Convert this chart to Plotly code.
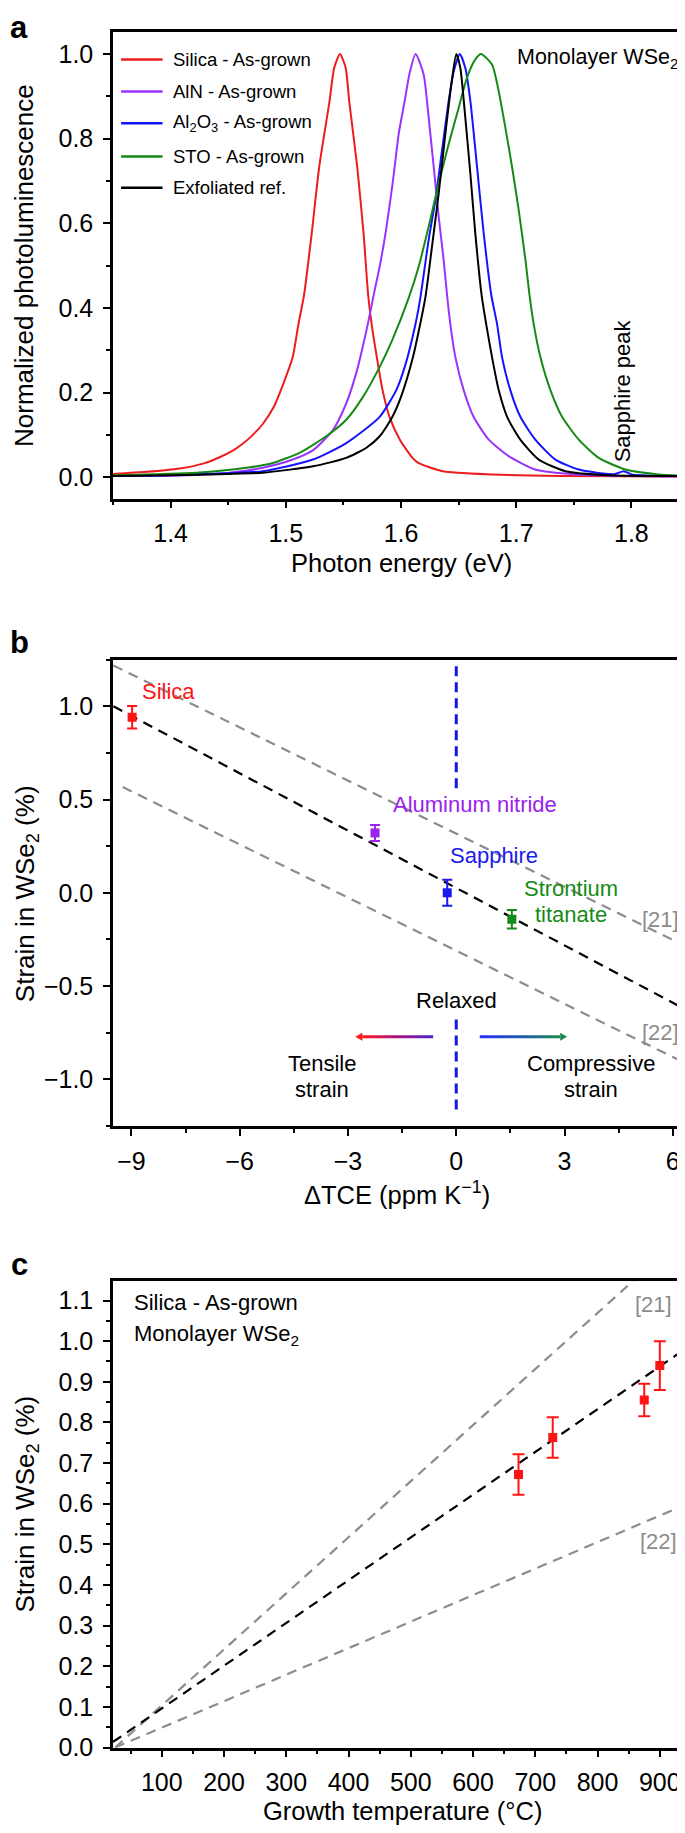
import plotly.graph_objects as go

FONT = "Liberation Sans, Arial, Helvetica, sans-serif"
W, H = 685, 1833

# ---------------- Panel a: PL spectra ----------------
red_e = [1.350, 1.379, 1.408, 1.429, 1.443, 1.454, 1.462, 1.4705, 1.480, 1.4895, 1.498, 1.506,
         1.511, 1.5158, 1.5225, 1.529, 1.538, 1.542, 1.547, 1.552, 1.555, 1.562, 1.5675, 1.5715,
         1.5745, 1.579, 1.584, 1.590, 1.599, 1.610, 1.615, 1.636, 1.679, 1.737, 1.850]
red_v = [0.008, 0.013, 0.021, 0.033, 0.048, 0.063, 0.078, 0.098, 0.126, 0.166, 0.222, 0.284,
         0.362, 0.43, 0.576, 0.733, 0.889, 0.967, 1.0, 0.967, 0.889, 0.733, 0.576, 0.43,
         0.362, 0.284, 0.206, 0.143, 0.089, 0.046, 0.034, 0.0146, 0.007, 0.003, 0.002]

aln_e = [1.350, 1.408, 1.451, 1.480, 1.506, 1.524, 1.541, 1.5525, 1.561, 1.570, 1.577, 1.5815,
         1.587, 1.593, 1.598, 1.6032, 1.6075, 1.6127, 1.6197, 1.624, 1.6284, 1.6327, 1.637, 1.640,
         1.6428, 1.6472, 1.6544, 1.663, 1.6762, 1.6935, 1.7166, 1.7514, 1.850]
aln_v = [0.003, 0.0045, 0.011, 0.0225, 0.042, 0.065, 0.112, 0.175, 0.245, 0.347, 0.44, 0.498,
         0.584, 0.70, 0.811, 0.889, 0.955, 1.0, 0.951, 0.85, 0.733, 0.616, 0.514, 0.43,
         0.362, 0.284, 0.206, 0.143, 0.089, 0.05, 0.0185, 0.007, 0.002]

al2o3_e = [1.350, 1.420, 1.4802, 1.5236, 1.5525, 1.5815, 1.5959, 1.6037, 1.6124, 1.6168, 1.624,
           1.6298, 1.6356, 1.6414, 1.6458, 1.651, 1.6558, 1.6602, 1.666, 1.6718, 1.6784, 1.6834,
           1.6877, 1.6949, 1.7036, 1.7166, 1.734, 1.7543, 1.7774, 1.786, 1.7934, 1.800, 1.8093, 1.850]
al2o3_v = [0.003, 0.007, 0.0146, 0.042, 0.081, 0.143, 0.206, 0.265, 0.36, 0.424, 0.561,
           0.654, 0.772, 0.889, 0.959, 1.0, 0.967, 0.889, 0.733, 0.576, 0.43, 0.362,
           0.284, 0.206, 0.143, 0.089, 0.042, 0.0185, 0.0083, 0.008, 0.0146, 0.007, 0.005, 0.003]

sto_e = [1.350, 1.4222, 1.4657, 1.4888, 1.512, 1.5351, 1.5525, 1.567, 1.5815, 1.5922, 1.6067,
         1.6154, 1.624, 1.6327, 1.6414, 1.6501, 1.6573, 1.6645, 1.6695, 1.679, 1.6848, 1.6906,
         1.6964, 1.7022, 1.708, 1.7116, 1.7152, 1.721, 1.7297, 1.7398, 1.7543, 1.7717, 1.7948,
         1.8238, 1.850]
sto_v = [0.005, 0.011, 0.0225, 0.034, 0.058, 0.097, 0.136, 0.19, 0.261, 0.323, 0.424,
         0.498, 0.592, 0.694, 0.787, 0.873, 0.944, 0.987, 1.0, 0.975, 0.912, 0.826,
         0.733, 0.631, 0.514, 0.43, 0.362, 0.284, 0.206, 0.143, 0.089, 0.046, 0.0185,
         0.007, 0.003]

exf_e = [1.350, 1.400, 1.450, 1.480, 1.5236, 1.5525, 1.570, 1.5815, 1.592, 1.600, 1.6104, 1.6211,
         1.6269, 1.6327, 1.6385, 1.6437, 1.648, 1.6515, 1.6558, 1.6602, 1.6645, 1.670, 1.6747,
         1.679, 1.6848, 1.6921, 1.7036, 1.7196, 1.7427, 1.7804, 1.850]
exf_v = [0.003, 0.005, 0.008, 0.011, 0.026, 0.046, 0.07, 0.097, 0.14, 0.19, 0.284, 0.424,
         0.545, 0.67, 0.811, 0.928, 1.0, 0.967, 0.85, 0.717, 0.576, 0.43, 0.35,
         0.284, 0.206, 0.143, 0.089, 0.042, 0.0146, 0.005, 0.003]

spectra_names = ["Silica - As-grown", "AlN - As-grown", "Al<sub>2</sub>O<sub>3</sub> - As-grown",
                 "STO - As-grown", "Exfoliated ref."]
spectra_colors = ["#ee1c1c", "#9933ff", "#1414ff", "#168a16", "#000000"]
spectra = [(red_e, red_v), (aln_e, aln_v), (al2o3_e, al2o3_v), (sto_e, sto_v), (exf_e, exf_v)]

# ---------------- Panel b: strain vs ΔTCE ----------------
b_names = ["Silica", "Aluminum nitride", "Sapphire", "Strontium titanate"]
b_tce = [-8.98, -2.25, -0.25, 1.54]
b_strain = [0.941, 0.321, 0.0, -0.142]
b_err = [0.06, 0.043, 0.07, 0.05]
b_colors = ["#ff1414", "#9922ee", "#1a1aee", "#168a16"]

b_fit_x = [-9.5, 6.5]
b_fit_y = [1.0, -0.641]
b_ref21_x = [-9.5, 6.5]
b_ref21_y = [1.219, -0.30]
b_ref22_x = [-9.24, 6.5]
b_ref22_y = [0.567, -0.928]
b_relaxed_top = [1.215, 0.545]
b_relaxed_bot = [-0.68, -1.19]

# ---------------- Panel c: strain vs growth temperature ----------------
c_temp = [673, 728, 875, 900]
c_strain = [0.672, 0.763, 0.855, 0.940]
c_err = [0.05, 0.05, 0.04, 0.06]
c_fit_x = [21.6, 949.3]
c_fit_y = [0.0137, 0.9897]
c_ref21_x = [25, 870]
c_ref21_y = [0.0, 1.166]
c_ref22_x = [25, 945]
c_ref22_y = [0.0, 0.60]

fig = go.Figure()

# panel a traces
for (e, v), name, col in zip(spectra, spectra_names, spectra_colors):
    fig.add_trace(go.Scatter(x=e, y=v, mode="lines", name=name, showlegend=False,
                             line=dict(color=col, width=2, shape="spline", smoothing=0.6),
                             xaxis="x", yaxis="y"))

# panel b traces
GRAY = "#8c8c8c"
fig.add_trace(go.Scatter(x=b_ref21_x, y=b_ref21_y, mode="lines", showlegend=False,
                         line=dict(color=GRAY, width=2.2, dash="10px,7px"), xaxis="x2", yaxis="y2"))
fig.add_trace(go.Scatter(x=b_ref22_x, y=b_ref22_y, mode="lines", showlegend=False,
                         line=dict(color=GRAY, width=2.2, dash="10px,7px"), xaxis="x2", yaxis="y2"))
fig.add_trace(go.Scatter(x=b_fit_x, y=b_fit_y, mode="lines", showlegend=False,
                         line=dict(color="black", width=2.2, dash="10px,7px"), xaxis="x2", yaxis="y2"))
for yy in (b_relaxed_top, b_relaxed_bot):
    fig.add_trace(go.Scatter(x=[0, 0], y=yy, mode="lines", showlegend=False,
                             line=dict(color="#1515e6", width=3, dash="10px,6px"),
                             xaxis="x2", yaxis="y2"))

# gradient arrows (tensile / compressive)
arrow_y = -0.772
half = 0.0085
head_half = 0.022
tens = dict(tail=-0.64, neck=-2.60, tip=-2.80)
comp = dict(tail=0.65, neck=2.88, tip=3.07)
fig.add_trace(go.Scatter(
    x=[tens["neck"], tens["tail"], tens["tail"], tens["neck"], tens["neck"]],
    y=[arrow_y - half, arrow_y - half, arrow_y + half, arrow_y + half, arrow_y - half],
    mode="lines", line=dict(width=0), fill="toself", showlegend=False, hoverinfo="skip",
    fillgradient=dict(type="horizontal",
                      colorscale=[[0, "#ff1a1a"], [0.45, "#b0147a"], [1, "#4a22d0"]]),
    xaxis="x2", yaxis="y2"))
fig.add_trace(go.Scatter(
    x=[tens["tip"], tens["neck"], tens["neck"], tens["tip"]],
    y=[arrow_y, arrow_y - head_half, arrow_y + head_half, arrow_y],
    mode="lines", line=dict(width=0), fill="toself", fillcolor="#ff1a1a",
    showlegend=False, hoverinfo="skip", xaxis="x2", yaxis="y2"))
fig.add_trace(go.Scatter(
    x=[comp["tail"], comp["neck"], comp["neck"], comp["tail"], comp["tail"]],
    y=[arrow_y - half, arrow_y - half, arrow_y + half, arrow_y + half, arrow_y - half],
    mode="lines", line=dict(width=0), fill="toself", showlegend=False, hoverinfo="skip",
    fillgradient=dict(type="horizontal",
                      colorscale=[[0, "#2a32ff"], [0.5, "#2058b0"], [1, "#1a8a50"]]),
    xaxis="x2", yaxis="y2"))
fig.add_trace(go.Scatter(
    x=[comp["tip"], comp["neck"], comp["neck"], comp["tip"]],
    y=[arrow_y, arrow_y - head_half, arrow_y + head_half, arrow_y],
    mode="lines", line=dict(width=0), fill="toself", fillcolor="#1a8a50",
    showlegend=False, hoverinfo="skip", xaxis="x2", yaxis="y2"))

for xv, yv, ev, col, nm in zip(b_tce, b_strain, b_err, b_colors, b_names):
    fig.add_trace(go.Scatter(x=[xv], y=[yv], mode="markers", name=nm, showlegend=False,
                             marker=dict(symbol="square", size=9, color=col),
                             error_y=dict(type="data", array=[ev], width=5, thickness=2, color=col),
                             xaxis="x2", yaxis="y2"))

# panel c traces
fig.add_trace(go.Scatter(x=c_ref21_x, y=c_ref21_y, mode="lines", showlegend=False,
                         line=dict(color=GRAY, width=2.2, dash="10px,7px"), xaxis="x3", yaxis="y3"))
fig.add_trace(go.Scatter(x=c_ref22_x, y=c_ref22_y, mode="lines", showlegend=False,
                         line=dict(color=GRAY, width=2.2, dash="10px,7px"), xaxis="x3", yaxis="y3"))
fig.add_trace(go.Scatter(x=c_fit_x, y=c_fit_y, mode="lines", showlegend=False,
                         line=dict(color="black", width=2.2, dash="10px,7px"), xaxis="x3", yaxis="y3"))
fig.add_trace(go.Scatter(x=c_temp, y=c_strain, mode="markers", showlegend=False,
                         marker=dict(symbol="square", size=9, color="#ff1414"),
                         error_y=dict(type="data", array=c_err, width=6, thickness=2, color="#ff1414"),
                         xaxis="x3", yaxis="y3"))

TICKFONT = dict(family=FONT, size=25, color="black")


def axis(domain, rng, dtick, tick0, minor_dtick, anchor, fmt=None, standoff=6):
    d = dict(domain=domain, range=rng, anchor=anchor, showgrid=False, zeroline=False,
             showline=True, linecolor="black", linewidth=2.5, mirror=True,
             ticks="outside", ticklen=7, tickwidth=2, tickcolor="black",
             dtick=dtick, tick0=tick0, tickfont=TICKFONT, ticklabelstandoff=standoff,
             minor=dict(dtick=minor_dtick, tick0=tick0, ticks="outside", ticklen=4,
                        tickwidth=2, tickcolor="black", showgrid=False))
    if fmt:
        d["tickformat"] = fmt
    return d


def pdom(top_px, bot_px):
    return [1 - bot_px / H, 1 - top_px / H]


xd_a = [105 / W, 681 / W]
xd_bc = [105 / W, 682.5 / W]

layout = dict(
    width=W, height=H, margin=dict(l=0, r=0, t=0, b=0),
    paper_bgcolor="white", plot_bgcolor="white", showlegend=False,
    font=dict(family=FONT, color="black"),
    xaxis=axis(xd_a, [1.35, 1.85], 0.1, 1.4, 0.05, "y", ".1f", 4),
    yaxis=axis(pdom(24.5, 494.3), [-0.05, 1.051], 0.2, 0, 0.1, "x", ".1f", 5),
    xaxis2=axis(xd_bc, [-9.51, 6.49], 3, 0, 1.5, "y2", None, 4),
    yaxis2=axis(pdom(656.7, 1126.5), [-1.25, 1.25], 0.5, 0, 0.25, "x2", ".1f", 5),
    xaxis3=axis(xd_bc, [21.6, 949.3], 100, 0, 50, "y3", None, 4),
    yaxis3=axis(pdom(1282.4, 1752.9), [0, 1.149], 0.1, 0, 0.05, "x3", ".1f", 5),
)
fig.update_layout(**layout)

ann = []


def A(text, x, y, xref="paper", yref="paper", size=22, color="black", xanchor="center",
      yanchor="middle", angle=0, bold=False):
    if xref == "paper":
        x = x / W
    if yref == "paper":
        y = 1 - y / H
    ann.append(dict(text=("<b>%s</b>" % text) if bold else text, x=x, y=y, xref=xref, yref=yref,
                    showarrow=False, xanchor=xanchor, yanchor=yanchor, textangle=angle,
                    font=dict(family=FONT, size=size, color=color)))


# panel labels
A("a", 11, 0, size=31, bold=True, yanchor="top")
A("b", 11, 639, size=31, bold=True)
A("c", 11, 1266, size=31, bold=True)

# axis titles
A("Photon energy (eV)", 393, 559, size=25.5)
A("Normalized photoluminescence", 16, 260, size=26, angle=-90)
A("ΔTCE (ppm K<sup>−1</sup>)", 389, 1194, size=25.5)
A("Strain in WSe<sub>2</sub> (%)", 18, 893, size=26, angle=-90)
A("Growth temperature (°C)", 394, 1817, size=25.5)
A("Strain in WSe<sub>2</sub> (%)", 18, 1508, size=26, angle=-90)

# panel a texts + manual legend
A("Monolayer WSe<sub>2</sub>", 1.842, 0.99, "x", "y", size=21.5, xanchor="right")
A("Sapphire peak", 1.7925, 0.205, "x", "y", size=22, angle=-90)
legend_rows = [0.987, 0.911, 0.836, 0.758, 0.684]
shapes = []
for name, col, ry in zip(spectra_names, spectra_colors, legend_rows):
    shapes.append(dict(type="line", xref="x", yref="y", x0=1.357, x1=1.393, y0=ry, y1=ry,
                       line=dict(color=col, width=2.5)))
    A(name, 1.4005, ry, "x", "y", size=18.5, xanchor="left")

# panel b texts
A("Silica", -8.75, 1.08, "x2", "y2", color="#ff1414", xanchor="left")
A("Aluminum nitride", -1.81, 0.473, "x2", "y2", color="#9922ee", xanchor="left")
A("Sapphire", -0.23, 0.20, "x2", "y2", color="#1a1aee", xanchor="left")
A("Strontium", 3.18, 0.024, "x2", "y2", color="#168a16")
A("titanate", 3.18, -0.118, "x2", "y2", color="#168a16")
A("[21]", 5.67, -0.143, "x2", "y2", color=GRAY)
A("[22]", 5.67, -0.747, "x2", "y2", color=GRAY)
A("Relaxed", 0.0, -0.577, "x2", "y2")
A("Tensile", -3.72, -0.914, "x2", "y2")
A("strain", -3.72, -1.056, "x2", "y2")
A("Compressive", 3.74, -0.914, "x2", "y2")
A("strain", 3.74, -1.056, "x2", "y2")

# panel c texts
A("Silica - As-grown", 51.6, 1.094, "x3", "y3", xanchor="left")
A("Monolayer WSe<sub>2</sub>", 51.6, 1.016, "x3", "y3", xanchor="left")
A("[21]", 889.5, 1.091, "x3", "y3", color=GRAY)
A("[22]", 898.6, 0.507, "x3", "y3", color=GRAY)

fig.update_layout(annotations=ann, shapes=shapes)
fig.write_html("out.html")
